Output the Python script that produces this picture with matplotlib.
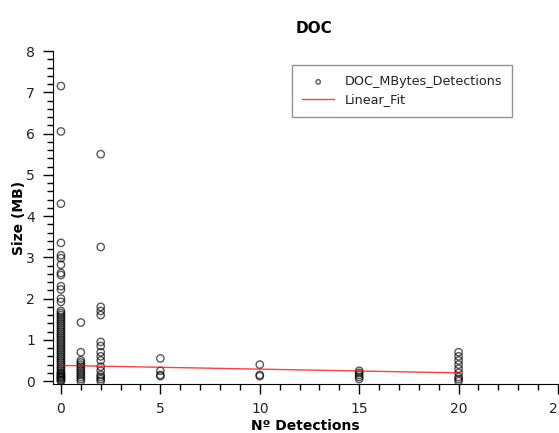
import matplotlib
matplotlib.use("Agg")
import matplotlib.pyplot as plt
from matplotlib.ticker import MultipleLocator

# data: detections (x) and sizes in MB (y)
det_0 = [0.0, 0.02, 0.05, 0.08, 0.1, 0.12, 0.15, 0.18, 0.2, 0.25, 0.3, 0.35, 0.4, 0.45, 0.5,
         0.55, 0.6, 0.65, 0.7, 0.75, 0.8, 0.85, 0.9, 0.95, 1.0, 1.05, 1.1, 1.15, 1.2, 1.25,
         1.3, 1.35, 1.4, 1.45, 1.5, 1.55, 1.6, 1.65, 1.7, 1.92, 2.0, 2.22, 2.3, 2.57, 2.62,
         2.82, 2.98, 3.05, 3.35, 4.3, 6.05, 7.15]
det_1 = [0.0, 0.05, 0.1, 0.15, 0.2, 0.25, 0.3, 0.35, 0.4, 0.45, 0.5, 0.7, 1.42]
det_2 = [0.0, 0.05, 0.1, 0.15, 0.25, 0.35, 0.5, 0.6, 0.7, 0.85, 0.95, 1.6, 1.7, 1.8, 3.25, 5.5]
det_5 = [0.12, 0.15, 0.25, 0.55]
det_10 = [0.12, 0.15, 0.4]
det_15 = [0.05, 0.1, 0.15, 0.2, 0.25]
det_20 = [0.0, 0.05, 0.1, 0.2, 0.3, 0.4, 0.5, 0.6, 0.7]

groups = {0: det_0, 1: det_1, 2: det_2, 5: det_5, 10: det_10, 15: det_15, 20: det_20}
xs, ys = [], []
for k, v in groups.items():
    xs += [k] * len(v)
    ys += v

fit_x = [0, 20]
fit_y = [0.38, 0.20]

fig = plt.figure(figsize=(5.59, 4.33), dpi=100)
ax = fig.add_axes([53/559, 1 - 384/433, (558 - 53)/559, (384 - 51)/433])

ax.scatter(xs, ys, s=28, facecolors='none', edgecolors=(0, 0, 0, 0.65), linewidths=1.0,
           label='DOC_MBytes_Detections', zorder=2)
ax.plot(fit_x, fit_y, color='red', alpha=0.75, lw=1.0, label='Linear_Fit', zorder=3)

ax.set_xlim(-0.4, 25)
ax.set_ylim(-0.07, 8)
ax.xaxis.set_minor_locator(MultipleLocator(1))
ax.yaxis.set_minor_locator(MultipleLocator(0.2))
ax.set_xticks([0, 5, 10, 15, 20, 25])
ax.set_yticks([0, 1, 2, 3, 4, 5, 6, 7, 8])
ax.tick_params(which='major', length=7, width=1, labelsize=10, pad=6, labelcolor='#222222')
ax.tick_params(which='minor', length=4, width=1)
for s in ['top', 'right']:
    ax.spines[s].set_visible(False)

ax.set_title('DOC', fontweight='bold', fontsize=11, pad=13, x=(314 - 53)/505)
ax.set_xlabel('Nº Detections', fontweight='bold', fontsize=10, labelpad=2)
ax.set_ylabel('Size (MB)', fontweight='bold', fontsize=10, labelpad=0)

leg = ax.legend(loc='upper left', bbox_to_anchor=(292/559, 1 - 65/433),
                bbox_transform=fig.transFigure, borderaxespad=0,
                frameon=True, fancybox=False, edgecolor='#777777', fontsize=9.2,
                borderpad=0.8, handlelength=2.5, handletextpad=0.8,
                labelspacing=0.4, markerscale=0.6)
leg.get_frame().set_linewidth(1.0)
for t in leg.get_texts():
    t.set_color('#222222')

fig.savefig('out.png', dpi=100)
